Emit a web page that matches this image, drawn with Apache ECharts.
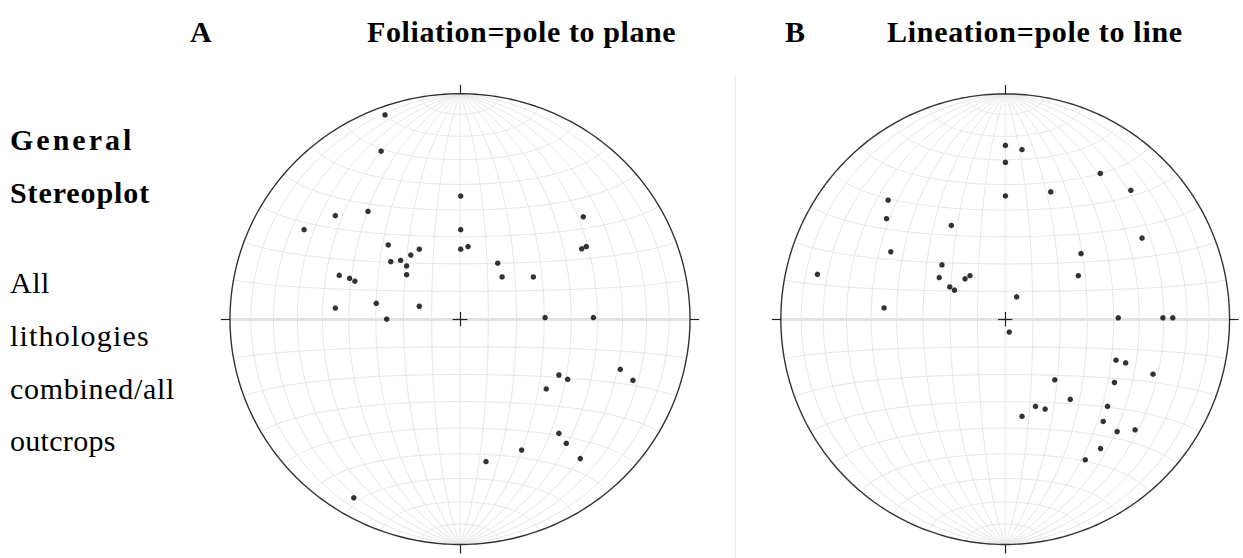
<!DOCTYPE html>
<html><head><meta charset="utf-8">
<script src="https://cdn.jsdelivr.net/npm/echarts@6/dist/echarts.min.js"></script>
<style>html,body{margin:0;padding:0;background:#fff}#c{width:1243px;height:558px}</style>
</head><body><div id="c"></div>
<script>
// ---- text ----
const panelLetters = ['A', 'B'];
const panelTitles = ['Foliation=pole to plane', 'Lineation=pole to line'];
const sideLabelsBold = ['General', 'Stereoplot'];
const sideLabels = ['All', 'lithologies', 'combined/all', 'outcrops'];

// ---- data: [east, north] positions on the unit primitive (equal-area net, lower hemisphere) ----
const foliationPoles = [
  [-0.326, 0.906], [-0.343, 0.745], [0.003, 0.546], [-0.400, 0.478], [-0.542, 0.459],
  [-0.678, 0.397], [0.536, 0.454], [0.003, 0.397], [-0.312, 0.329], [-0.177, 0.310],
  [0.003, 0.310], [0.035, 0.322], [0.529, 0.312], [0.549, 0.322], [-0.214, 0.284],
  [-0.301, 0.255], [-0.258, 0.261], [-0.232, 0.236], [-0.232, 0.197], [0.164, 0.248],
  [0.183, 0.187], [0.319, 0.187], [-0.525, 0.194], [-0.480, 0.181], [-0.457, 0.168],
  [-0.542, 0.049], [-0.364, 0.070], [-0.177, 0.057], [-0.319, 0.000], [0.370, 0.007],
  [0.580, 0.007], [0.697, -0.223], [0.752, -0.272], [0.430, -0.248], [0.468, -0.267],
  [0.375, -0.310], [0.430, -0.507], [0.462, -0.551], [0.268, -0.581], [0.523, -0.619],
  [0.113, -0.632], [-0.462, -0.793]
];
const lineationPoles = [
  [0.001, 0.771], [0.075, 0.753], [0.001, 0.696], [0.424, 0.647], [0.203, 0.565],
  [0.560, 0.572], [0.001, 0.547], [-0.522, 0.528], [-0.529, 0.446], [-0.240, 0.416],
  [0.610, 0.360], [-0.510, 0.299], [0.338, 0.291], [-0.282, 0.241], [-0.837, 0.199],
  [-0.294, 0.185], [-0.179, 0.179], [-0.157, 0.193], [0.326, 0.193], [-0.247, 0.143],
  [-0.226, 0.129], [0.051, 0.099], [-0.540, 0.050], [0.504, 0.006], [0.703, 0.006],
  [0.747, 0.006], [0.018, -0.057], [0.494, -0.182], [0.537, -0.194], [0.659, -0.244],
  [0.221, -0.269], [0.487, -0.281], [0.290, -0.356], [0.135, -0.387], [0.178, -0.399],
  [0.456, -0.387], [0.075, -0.431], [0.437, -0.454], [0.499, -0.499], [0.579, -0.491],
  [0.425, -0.574], [0.357, -0.624]
];
const netStepDeg = 10;

// ---- equal-area (Schmidt) lower-hemisphere projection helpers for the net ----
const rad = Math.PI / 180;
function proj(e, n, d) {
  if (d < 0) { e = -e; n = -n; d = -d; }
  const h = Math.hypot(e, n);
  if (h < 1e-12) return [0, 0];
  const r = Math.sqrt(Math.max(0, 1 - d));
  return [r * e / h, r * n / h];
}
function meridian(dipDeg, sign) {
  const pts = [];
  for (let t = 0; t <= 180; t += 1) {
    const st = Math.sin(t * rad), ct = Math.cos(t * rad);
    pts.push(proj(sign * st * Math.cos(dipDeg * rad), ct, st * Math.sin(dipDeg * rad)));
  }
  return pts;
}
function smallCircle(alphaDeg) {
  const pts = [];
  const sa = Math.sin(alphaDeg * rad), ca = Math.cos(alphaDeg * rad);
  for (let p = 0; p <= 180; p += 1) {
    pts.push(proj(sa * Math.cos(p * rad), ca, sa * Math.sin(p * rad)));
  }
  return pts;
}
function netLines() {
  const out = [];
  for (let a = netStepDeg; a < 90; a += netStepDeg) {
    out.push({ coords: meridian(a, 1) });
    out.push({ coords: meridian(a, -1) });
  }
  out.push({ coords: meridian(90, 1) });
  for (let a = netStepDeg; a < 180; a += netStepDeg) {
    if (a === 90) continue;
    out.push({ coords: smallCircle(a) });
  }
  return out;
}
function primitive() {
  const pts = [];
  for (let t = 0; t <= 360; t += 1) pts.push([Math.sin(t * rad), Math.cos(t * rad)]);
  return [{ coords: pts }];
}

const panels = [
  { cx: 460, cy: 324, R: 230, data: foliationPoles },
  { cx: 1008, cy: 321, R: 227, data: lineationPoles }
];
const ext = 1.06;
const tickLen = 0.04, crossLen = 0.032;

const grids = [], xAxes = [], yAxes = [], series = [];
panels.forEach((p, i) => {
  grids.push({ left: p.cx - p.R * ext, top: p.cy - p.R * ext, width: 2 * p.R * ext, height: 2 * p.R * ext });
  xAxes.push({ type: 'value', gridIndex: i, min: -ext, max: ext, show: false });
  yAxes.push({ type: 'value', gridIndex: i, min: -ext, max: ext, show: false });
  const common = { type: 'lines', coordinateSystem: 'cartesian2d', xAxisIndex: i, yAxisIndex: i, silent: true, animation: false };
  series.push(Object.assign({}, common, { polyline: true, z: 1, lineStyle: { color: '#e6e6e6', width: 1, opacity: 1 }, data: netLines() }));
  series.push(Object.assign({}, common, { z: 2, lineStyle: { color: '#e2e2e2', width: 3, opacity: 1 }, data: [{ coords: [[-1, 0], [1, 0]] }] }));
  series.push(Object.assign({}, common, { polyline: true, z: 3, lineStyle: { color: '#333', width: 1.4, opacity: 1 }, data: primitive() }));
  series.push(Object.assign({}, common, { z: 4, lineStyle: { color: '#222', width: 1.2, opacity: 1 }, data: [
    { coords: [[0, 1], [0, 1 + tickLen]] }, { coords: [[0, -1], [0, -1 - tickLen]] },
    { coords: [[1, 0], [1 + tickLen, 0]] }, { coords: [[-1, 0], [-1 - tickLen, 0]] },
    { coords: [[-crossLen, 0], [crossLen, 0]] }, { coords: [[0, -crossLen], [0, crossLen]] }
  ] }));
  series.push({ type: 'scatter', xAxisIndex: i, yAxisIndex: i, z: 5, symbol: 'circle', symbolSize: 5.5,
    itemStyle: { color: '#000' }, data: p.data, animation: false, silent: true });
});

const serif = "'Liberation Serif', 'Times New Roman', serif";
const titleFont = 'bold 30px ' + serif;
const graphic = [
  { type: 'line', shape: { x1: 735.5, y1: 75, x2: 735.5, y2: 558 }, style: { stroke: '#ececec', lineWidth: 1 } },
  { type: 'text', left: 190, top: 16, style: { text: panelLetters[0], font: titleFont, fill: '#000' } },
  { type: 'text', left: 367, top: 16, style: { text: panelTitles[0], font: titleFont, fill: '#000' } },
  { type: 'text', left: 785, top: 16, style: { text: panelLetters[1], font: titleFont, fill: '#000' } },
  { type: 'text', left: 887, top: 16, style: { text: panelTitles[1], font: titleFont, fill: '#000' } }
];
const sideY = [124, 177];
sideLabelsBold.forEach((t, k) => graphic.push({ type: 'text', left: 10, top: sideY[k], style: { text: t, font: 'bold 30px ' + serif, fill: '#000' } }));
const sideY2 = [267, 320, 373, 425];
sideLabels.forEach((t, k) => graphic.push({ type: 'text', left: 10, top: sideY2[k], style: { text: t, font: '30px ' + serif, fill: '#000' } }));

// small extra letter spacing of the spread-out reference typesetting
const letterSpacingPx = {
  'Foliation=pole to plane': 0.6, 'Lineation=pole to line': 0.7,
  'General': 3, 'Stereoplot': 0.9,
  'All': 0.5, 'lithologies': 1.2, 'combined/all': 0.7, 'outcrops': 0.3
};

const chart = echarts.init(document.getElementById('c'), null, { renderer: 'svg' });
chart.setOption({ animation: false, backgroundColor: '#fff', grid: grids, xAxis: xAxes, yAxis: yAxes, series: series, graphic: graphic });
function applySpacing() {
  document.querySelectorAll('#c svg text').forEach(t => {
    const s = letterSpacingPx[t.textContent];
    if (s != null) t.setAttribute('letter-spacing', s + 'px');
  });
}
applySpacing();
chart.on('finished', applySpacing);
</script></body></html>
